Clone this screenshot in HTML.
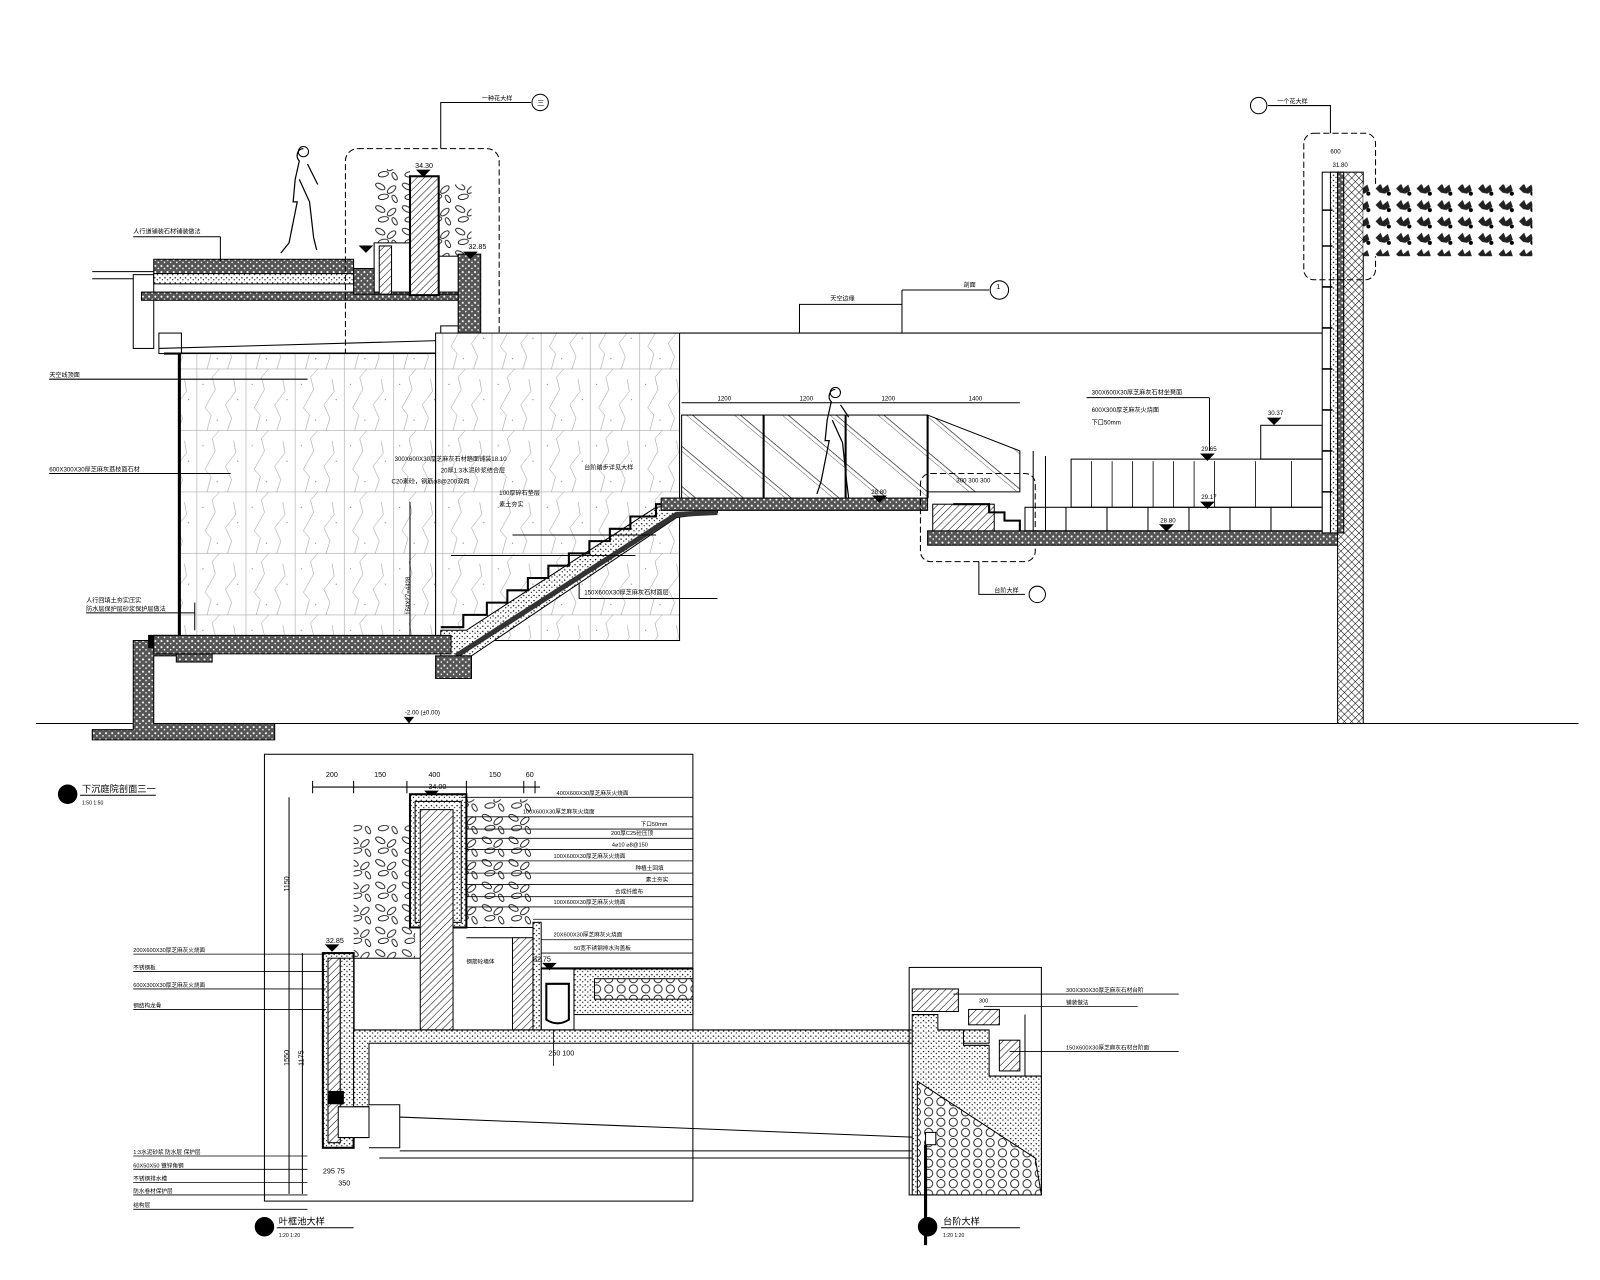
<!DOCTYPE html>
<html><head><meta charset="utf-8"><style>
html,body{margin:0;padding:0;background:#fff;}
svg{display:block}
text{font-family:"Liberation Sans","Noto Sans CJK SC",sans-serif;fill:#000;stroke:none !important}
</style></head><body>
<svg width="1600" height="1280" viewBox="0 0 1561 1249" preserveAspectRatio="none" xmlns="http://www.w3.org/2000/svg">
<defs>
<pattern id="conc" width="6" height="6" patternUnits="userSpaceOnUse">
<rect width="6" height="6" fill="#555"/><circle cx="1.5" cy="1.5" r="1" fill="#fff"/><circle cx="4.5" cy="4" r=".8" fill="#fff"/></pattern>
<pattern id="dots" width="5" height="5" patternUnits="userSpaceOnUse">
<rect width="5" height="5" fill="#fff"/><circle cx="1" cy="1" r=".7" fill="#000"/><circle cx="3.5" cy="3" r=".6" fill="#000"/></pattern>
<pattern id="hatch" width="5" height="5" patternUnits="userSpaceOnUse" patternTransform="rotate(45)">
<rect width="5" height="5" fill="#fff"/><line x1="0" y1="0" x2="0" y2="5" stroke="#000" stroke-width="1"/></pattern>
<pattern id="xhatch" width="5" height="5" patternUnits="userSpaceOnUse" patternTransform="rotate(45)">
<rect width="5" height="5" fill="#fff"/><line x1="0" y1="0" x2="0" y2="5" stroke="#000" stroke-width="1"/><line x1="0" y1="0" x2="5" y2="0" stroke="#000" stroke-width="1"/></pattern>
<pattern id="glass" width="30" height="30" patternUnits="userSpaceOnUse" patternTransform="rotate(-50)">
<rect width="30" height="30" fill="#fff"/><line x1="0" y1="0" x2="0" y2="30" stroke="#000" stroke-width=".6"/><line x1="4" y1="0" x2="4" y2="30" stroke="#000" stroke-width=".6"/></pattern>
<pattern id="stone" width="48" height="60" patternUnits="userSpaceOnUse">
<rect width="48" height="60" fill="#fff" stroke="#aaa" stroke-width=".6"/>
<path d="M10 60 L14 45 L8 38 L18 20 L15 8 L22 0 M30 60 L34 48 L28 35 L38 22 L36 10" fill="none" stroke="#777" stroke-width=".4"/>
<circle cx="40" cy="30" r=".5" fill="#444"/><circle cx="20" cy="50" r=".5" fill="#444"/><circle cx="6" cy="15" r=".5" fill="#444"/></pattern>
<pattern id="leaf" width="26" height="22" patternUnits="userSpaceOnUse">
<rect width="26" height="22" fill="#fff"/>
<ellipse cx="7" cy="6" rx="5" ry="2.5" transform="rotate(30 7 6)" fill="none" stroke="#000" stroke-width=".8"/>
<ellipse cx="18" cy="9" rx="5" ry="2.5" transform="rotate(-40 18 9)" fill="none" stroke="#000" stroke-width=".8"/>
<ellipse cx="10" cy="16" rx="5" ry="2.5" transform="rotate(-10 10 16)" fill="none" stroke="#000" stroke-width=".8"/>
<ellipse cx="21" cy="18" rx="4" ry="2" transform="rotate(60 21 18)" fill="none" stroke="#000" stroke-width=".8"/></pattern>
<pattern id="leafd" width="20" height="16" patternUnits="userSpaceOnUse">
<rect width="20" height="16" fill="#fff"/>
<path d="M2 8 L7 3 L9 8 L14 4 L16 10 L11 13 L6 12 Z" fill="#222"/><circle cx="15" cy="13" r="2" fill="#000"/></pattern>
<pattern id="grav" width="12" height="10" patternUnits="userSpaceOnUse">
<rect width="12" height="10" fill="#fff"/><circle cx="6" cy="5" r="4" fill="none" stroke="#000" stroke-width=".8"/></pattern>
</defs>

<g stroke="#000" fill="none" stroke-width="1">
<line x1="35" y1="706" x2="1540" y2="706"/>
<polygon points="395,700 403,700 399,705" fill="#000"/>
<text x="395" y="697" font-size="6">-2.00 (±0.00)</text>

<path d="M130 625 H176 V640 H150 V706 H268 V722 H90 V712 H130 Z" fill="url(#conc)" stroke="#000"/>
<rect x="145" y="620" width="30" height="12" fill="#000"/>
<rect x="172" y="638" width="35" height="8" fill="url(#conc)"/>

<rect x="130" y="268" width="20" height="72"/>
<line x1="90" y1="265" x2="150" y2="265"/><line x1="90" y1="272" x2="130" y2="272"/>
<rect x="150" y="253" width="195" height="14" fill="url(#conc)"/>
<rect x="150" y="267" width="195" height="10" fill="url(#dots)"/>
<rect x="138" y="285" width="330" height="8" fill="url(#conc)"/>
<line x1="155" y1="340" x2="440" y2="332"/>
<line x1="160" y1="345" x2="445" y2="345" stroke-width="2"/>
<rect x="155" y="325" width="22" height="20"/>
<rect x="430" y="318" width="20" height="25"/>

<rect x="337" y="145" width="150" height="212" rx="12" stroke-dasharray="6,3"/>
<path d="M430 145 V100 H518"/><circle cx="527" cy="100" r="8"/>
<text x="470" y="98" font-size="6">一种花大样</text><text x="524" y="103" font-size="7">三</text>
<rect x="365" y="165" width="35" height="72" fill="url(#leaf)" stroke="none"/>
<rect x="428" y="180" width="32" height="70" fill="url(#leaf)" stroke="none"/>
<rect x="400" y="172" width="28" height="116" fill="url(#hatch)" stroke-width="2"/>
<rect x="365" y="237" width="35" height="50"/>
<rect x="370" y="240" width="12" height="47" fill="url(#hatch)"/>
<rect x="428" y="250" width="30" height="37"/>
<rect x="345" y="262" width="20" height="25" fill="url(#conc)"/>
<rect x="447" y="248" width="22" height="97" fill="url(#conc)"/>
<text x="405" y="164" font-size="7">34.30</text>
<text x="457" y="243" font-size="7">32.85</text>
<polygon points="407,166 419,166 413,172" fill="#000"/>
<polygon points="351,240 363,240 357,246" fill="#000"/>
<polygon points="453,246 465,246 459,252" fill="#000"/>
<text x="130" y="228" font-size="6">人行道铺装石材铺装做法</text>
<line x1="130" y1="231" x2="215" y2="231"/><line x1="215" y1="231" x2="215" y2="255"/>

<rect x="175" y="345" width="250" height="280" fill="url(#stone)" stroke-width="1"/>
<line x1="175" y1="345" x2="175" y2="625" stroke-width="3"/>
<rect x="425" y="325" width="238" height="300" fill="url(#stone)"/>
<line x1="663" y1="325" x2="1290" y2="325"/>
<text x="48" y="368" font-size="6">天空线顶面</text><line x1="48" y1="370" x2="300" y2="370"/>
<text x="48" y="460" font-size="6">600X300X30厚芝麻灰荔枝面石材</text><line x1="48" y1="462" x2="225" y2="462"/>
<text x="84" y="588" font-size="6">人行回填土夯实压实</text>
<text x="84" y="596" font-size="6">防水层保护层砂浆保护层做法</text>
<line x1="84" y1="598" x2="190" y2="598"/><line x1="190" y1="588" x2="190" y2="615"/>

<g font-size="6" stroke="none">
<text x="385" y="450">300X600X30厚芝麻灰石材踏面铺装18.10</text>
<text x="430" y="461">20厚1:3水泥砂浆结合层</text>
<text x="382" y="472">C20素砼，钢筋φ8@200双向</text>
<text x="487" y="483">100厚碎石垫层</text>
<text x="487" y="494">素土夯实</text>
<text x="570" y="458">台阶踏步详见大样</text>
<text x="570" y="580">150X600X30厚芝麻灰石材面层</text>
</g>
<line x1="565" y1="584" x2="700" y2="584"/><line x1="565" y1="584" x2="565" y2="545"/>
<line x1="400" y1="490" x2="400" y2="620"/>
<text x="400" y="600" font-size="6" transform="rotate(-90 400 600)">164X27=4428</text>

<polygon points="430,615 455,615 640,495 700,490 700,500 660,505 460,640 430,640" fill="url(#dots)"/>
<path d="M445 640 L660 502 L700 500" stroke-width="5" stroke="#333"/>
<path d="M430 612 H452 V600 H475 V588 H495 V576 H515 V564 H535 V552 H555 V540 H575 V528 H595 V516 H615 V504 H640 V492 H700" stroke-width="2"/>
<rect x="425" y="640" width="35" height="22" fill="url(#conc)"/>
<rect x="150" y="620" width="290" height="18" fill="url(#conc)"/>
<line x1="440" y1="542" x2="620" y2="542"/><line x1="500" y1="522" x2="640" y2="522"/>

<rect x="645" y="486" width="260" height="12" fill="url(#conc)"/>
<rect x="665" y="405" width="240" height="81" fill="url(#glass)"/>
<polygon points="905,405 995,440 995,480 905,480" fill="url(#glass)"/>
<line x1="745" y1="405" x2="745" y2="486" stroke-width="2"/><line x1="825" y1="405" x2="825" y2="486" stroke-width="2"/><line x1="905" y1="405" x2="905" y2="486" stroke-width="2"/>
<line x1="665" y1="393" x2="995" y2="393"/>
<g font-size="6" stroke="none"><text x="700" y="391">1200</text><text x="780" y="391">1200</text><text x="860" y="391">1200</text><text x="945" y="391">1400</text>
<text x="850" y="482">28.80</text></g>
<path d="M815 380 c-6 0 -8 8 -4 12 l-4 18 l-2 20 l4 0 l-8 40 l-4 12 M812 410 l10 22 l4 38 l2 16 M820 395 l8 12" stroke-width="1.2"/>
<circle cx="815" cy="383" r="5"/>
<path d="M296 145 c-6 0 -8 8 -4 12 l-4 18 l-2 22 l4 0 l-8 40 l-8 10 M292 175 l10 22 l4 35 l3 12 M300 160 l10 20" stroke-width="1.2"/>
<circle cx="296" cy="148" r="5"/>

<rect x="898" y="462" width="112" height="86" rx="10" stroke-dasharray="6,3"/>
<rect x="910" y="492" width="60" height="28" fill="url(#hatch)"/>
<path d="M930 492 H965 V500 H980 V508 H995 V518" stroke-width="2"/>
<rect x="905" y="518" width="400" height="14" fill="url(#conc)"/>
<rect x="1045" y="448" width="245" height="47"/>
<g stroke-width=".8"><line x1="1065" y1="450" x2="1065" y2="495"/><line x1="1085" y1="450" x2="1085" y2="495"/><line x1="1105" y1="450" x2="1105" y2="495"/><line x1="1125" y1="450" x2="1125" y2="495"/><line x1="1145" y1="450" x2="1145" y2="495"/><line x1="1165" y1="450" x2="1165" y2="495"/><line x1="1185" y1="450" x2="1185" y2="495"/><line x1="1225" y1="450" x2="1225" y2="495"/><line x1="1260" y1="450" x2="1260" y2="495"/></g>
<rect x="1000" y="495" width="290" height="23"/>
<line x1="1040" y1="495" x2="1040" y2="518"/><line x1="1080" y1="495" x2="1080" y2="518"/><line x1="1120" y1="495" x2="1120" y2="518"/><line x1="1160" y1="495" x2="1160" y2="518"/><line x1="1200" y1="495" x2="1200" y2="518"/><line x1="1240" y1="495" x2="1240" y2="518"/>
<rect x="1230" y="415" width="60" height="33"/>
<line x1="1008" y1="440" x2="1008" y2="518"/><line x1="1020" y1="445" x2="1020" y2="518"/>
<g font-size="6" stroke="none"><text x="1065" y="385">300X600X30厚芝麻灰石材坐凳面</text><text x="1065" y="402">600X300厚芝麻灰火烧面</text><text x="1065" y="414">下口50mm</text>
<text x="1237" y="405">30.37</text><text x="1172" y="440">29.65</text><text x="1172" y="487">29.17</text><text x="1132" y="510">28.80</text>
<text x="933" y="471">300 300 300</text></g>
<line x1="1060" y1="388" x2="1180" y2="388"/><line x1="1180" y1="388" x2="1180" y2="440"/>
<polygon points="1237,408 1249,408 1243,414" fill="#000"/>
<polygon points="1172,443 1184,443 1178,449" fill="#000"/>
<polygon points="1172,490 1184,490 1178,496" fill="#000"/>
<polygon points="1132,512 1144,512 1138,518" fill="#000"/>
<polygon points="852,484 864,484 858,490" fill="#000"/>
<path d="M955 548 V580 H1000"/><circle cx="1012" cy="580" r="8"/><text x="970" y="578" font-size="6">台阶大样</text>

<rect x="1290" y="168" width="15" height="352" fill="#fff"/>
<rect x="1298" y="168" width="7" height="352" fill="url(#dots)"/>
<rect x="1305" y="168" width="25" height="538" fill="url(#xhatch)"/>
<rect x="1305" y="168" width="6" height="352" fill="url(#conc)"/>
<g stroke-width="1.5"><path d="M1290 205 h10 M1290 240 h10 M1290 280 h10 M1290 320 h10 M1290 360 h10 M1290 400 h10 M1290 440 h10 M1290 480 h10"/></g>
<rect x="1272" y="130" width="70" height="143" rx="10" stroke-dasharray="6,3"/>
<rect x="1330" y="180" width="165" height="70" fill="url(#leafd)" stroke="none"/>
<path d="M1298 130 V103 H1237"/><circle cx="1228" cy="103" r="8"/><text x="1246" y="101" font-size="6">一个花大样</text>
<text x="1298" y="150" font-size="6">600</text>
<text x="1300" y="163" font-size="6">31.80</text>

<path d="M780 325 V297 H880 V325 M880 283 V297 M880 283 H965"/><circle cx="975" cy="283" r="9"/>
<text x="810" y="293" font-size="6">天空边缘</text><text x="940" y="280" font-size="6">剖面</text><text x="972" y="282" font-size="7">1</text>

<circle cx="66" cy="775" r="9" fill="#000"/>
<text x="80" y="773" font-size="9">下沉庭院剖面三一</text>
<line x1="78" y1="776" x2="152" y2="776"/><text x="80" y="785" font-size="5">1:50   1:50</text>

<rect x="258" y="736" width="418" height="436"/>
<line x1="305" y1="768" x2="527" y2="768"/>
<g stroke-width="1"><path d="M305 762 v12 M345 762 v12 M397 762 v12 M455 762 v12 M511 762 v12 M522 762 v12"/></g>
<g font-size="7" stroke="none"><text x="318" y="758">200</text><text x="365" y="758">150</text><text x="418" y="758">400</text><text x="477" y="758">150</text><text x="513" y="758">60</text><text x="418" y="770">34.00</text></g>
<polygon points="415,772 427,772 421,778" fill="#000"/>
<rect x="345" y="805" width="60" height="130" fill="url(#leaf)" stroke="none"/>
<rect x="455" y="780" width="65" height="125" fill="url(#leaf)" stroke="none"/>
<rect x="400" y="775" width="55" height="130" fill="url(#dots)" stroke-width="2"/>
<rect x="405" y="782" width="45" height="118"/>
<rect x="410" y="790" width="32" height="215" fill="url(#hatch)"/>
<path d="M455 905 H520 V1005 M455 915 H500"/>
<rect x="500" y="915" width="20" height="90" fill="url(#hatch)"/>
<rect x="520" y="900" width="8" height="105" fill="url(#dots)"/>
<rect x="315" y="930" width="30" height="190" fill="url(#dots)" stroke-width="2"/>
<rect x="320" y="935" width="12" height="180" fill="url(#hatch)"/>
<rect x="332" y="935" width="13" height="165" fill="url(#dots)"/>
<path d="M345 935 H410"/>
<polygon points="345,1005 965,1005 965,1018 360,1018 360,1080 345,1080" fill="url(#dots)"/>
<rect x="528" y="945" width="32" height="60"/>
<path d="M533 960 H555 V995 Q544 1002 533 995 Z" stroke-width="2"/>
<rect x="560" y="945" width="116" height="45" fill="url(#dots)"/>
<rect x="580" y="955" width="96" height="20" fill="url(#grav)"/>
<path d="M528 945 H676" stroke-width="2"/>
<path d="M330 1080 H360 V1110 H330 Z M360 1078 H390 V1120 H360" fill="#fff"/>
<rect x="320" y="1065" width="15" height="12" fill="#000"/>
<path d="M390 1090 L900 1110 M390 1123 H900 M370 1130 H900" stroke-width="1"/>
<path d="M282 778 V1165 M295 930 V1165"/>
<g font-size="7" stroke="none"><text x="282" y="870" transform="rotate(-90 282 870)">1150</text><text x="282" y="1040" transform="rotate(-90 282 1040)">1550</text><text x="296" y="1040" transform="rotate(-90 296 1040)">1175</text>
<text x="318" y="920">32.85</text><text x="520" y="938">32.75</text><text x="535" y="1030">250 100</text>
<text x="315" y="1145">295 75</text><text x="330" y="1157">350</text></g>
<polygon points="318,922 330,922 324,928" fill="#000"/>
<polygon points="530,940 542,940 536,946" fill="#000"/>
<g font-size="5.5" stroke="none">
<text x="543" y="776">400X600X30厚芝麻灰火烧面</text>
<text x="510" y="794">100X600X30厚芝麻灰火烧面</text>
<text x="625" y="806">下口50mm</text>
<text x="596" y="815">200厚C25砼压顶</text>
<text x="597" y="826">4⌀10 ⌀8@150</text>
<text x="540" y="837">100X600X30厚芝麻灰火烧面</text>
<text x="620" y="849">种植土回填</text>
<text x="630" y="860">素土夯实</text>
<text x="600" y="872">合成纤维布</text>
<text x="540" y="882">100X600X30厚芝麻灰火烧面</text>
<text x="540" y="914">20X600X30厚芝麻灰火烧面</text>
<text x="560" y="927">50宽不锈钢排水沟盖板</text>
<text x="455" y="940">钢筋砼墙体</text>
</g>
<g stroke-width=".8"><path d="M450 778 H676 M455 797 H676 M455 809 H676 M455 818 H676 M455 829 H676 M455 840 H676 M455 852 H676 M455 863 H676 M455 875 H676 M455 885 H676 M520 897 H676 M528 917 H676 M528 930 H676 M540 1005 V1040"/></g>
<g font-size="5.5" stroke="none">
<text x="130" y="929">200X600X30厚芝麻灰火烧面</text>
<text x="130" y="946">不锈钢板</text>
<text x="130" y="963">600X300X30厚芝麻灰火烧面</text>
<text x="130" y="983">钢结构龙骨</text>
<text x="130" y="1126">1:3水泥砂浆 防水层 保护层</text>
<text x="130" y="1139">60X50X50 镀锌角钢</text>
<text x="130" y="1152">不锈钢排水槽</text>
<text x="130" y="1164">防水卷材保护层</text>
<text x="130" y="1178">结构层</text>
</g>
<g stroke-width=".8"><path d="M130 931 H318 M130 948 H318 M130 965 H318 M130 985 H318 M130 1128 H300 M130 1141 H300 M130 1154 H300 M130 1166 H300 M130 1180 H300"/></g>
<circle cx="258" cy="1197" r="9" fill="#000"/>
<text x="272" y="1195" font-size="9">叶框池大样</text><line x1="270" y1="1198" x2="345" y2="1198"/><text x="272" y="1207" font-size="5">1:20  1:20</text>

<rect x="887" y="944" width="129" height="222"/>
<rect x="890" y="965" width="45" height="22" fill="url(#hatch)"/>
<rect x="945" y="985" width="30" height="15" fill="url(#hatch)"/>
<rect x="975" y="1015" width="20" height="30" fill="url(#hatch)"/>
<polygon points="890,990 915,990 915,1005 940,1005 940,1020 965,1020 965,1050 1016,1050 1016,1166 890,1166" fill="url(#dots)"/>
<polygon points="895,1055 1010,1130 1016,1166 895,1166" fill="url(#grav)"/>
<line x1="1000" y1="990" x2="1000" y2="1050"/>
<rect x="903" y="1105" width="10" height="12" fill="#fff"/>
<line x1="903" y1="1117" x2="903" y2="1215" stroke-width="3"/>
<g font-size="5.5" stroke="none"><text x="1040" y="968">300X300X30厚芝麻灰石材台阶</text><text x="1040" y="980">铺装做法</text><text x="1040" y="1024">150X600X30厚芝麻灰石材台阶面</text><text x="955" y="978">300</text></g>
<path d="M930 970 H1150 M960 982 H1110 M985 1026 H1150" stroke-width=".8"/>
<circle cx="905" cy="1197" r="9" fill="#000"/>
<text x="920" y="1195" font-size="9">台阶大样</text><line x1="918" y1="1198" x2="995" y2="1198"/><text x="920" y="1207" font-size="5">1:20  1:20</text>
</g>
</svg>
</body></html>
